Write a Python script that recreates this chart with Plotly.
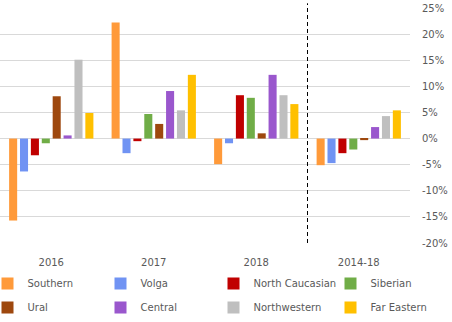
import plotly.graph_objects as go

categories = ["2016", "2017", "2018", "2014-18"]
regions = ["Southern", "Volga", "North Caucasian", "Siberian",
           "Ural", "Central", "Northwestern", "Far Eastern"]
colors = ["#FF9A3A", "#7093F3", "#C00000", "#70AD47",
          "#9E480E", "#9A57CD", "#BFBFBF", "#FFC000"]

southern = [-15.7, 22.2, -4.9, -5.1]
volga = [-6.3, -2.8, -0.9, -4.7]
north_caucasian = [-3.2, -0.5, 8.3, -2.8]
siberian = [-0.9, 4.7, 7.8, -2.1]
ural = [8.1, 2.8, 1.0, -0.3]
central = [0.6, 9.1, 12.2, 2.2]
northwestern = [15.1, 5.4, 8.3, 4.3]
far_eastern = [4.9, 12.2, 6.6, 5.4]

series = [southern, volga, north_caucasian, siberian,
          ural, central, northwestern, far_eastern]

tick_vals = [-20, -15, -10, -5, 0, 5, 10, 15, 20, 25]
tick_text = [f"{v}%" for v in tick_vals]

font = dict(family="DejaVu Sans", size=10, color="#595959")

W, H = 452, 322
ML, MR, MT, MB = 0, 42, 8, 79
PW, PH = W - ML - MR, H - MT - MB

legend_names = ["legend", "legend2", "legend3", "legend4"]
col_px = [-12.5, 100.5, 213.5, 330.5]

fig = go.Figure()
for i, (name, vals, col) in enumerate(zip(regions, series, colors)):
    fig.add_trace(go.Bar(
        x=categories, y=vals, name=name, marker_color=col,
        marker_line_width=0,
        legend=legend_names[i % 4], legendgroup=name,
    ))

fig.add_shape(type="line", xref="x", yref="paper", x0=2.5, x1=2.5,
              y0=0, y1=1.02, line=dict(color="black", width=1, dash="4px,3px"))

legends = {}
for k, (ln, px) in enumerate(zip(legend_names, col_px)):
    legends[ln] = dict(orientation="v", x=px / PW, xanchor="left",
                       y=(PH - (269 - MT)) / PH, yanchor="top",
                       font=font, itemwidth=30, bgcolor="rgba(0,0,0,0)",
                       tracegroupgap=5, traceorder="grouped")

fig.update_layout(
    width=W, height=H,
    margin=dict(l=ML, r=MR, t=MT, b=MB, autoexpand=False),
    paper_bgcolor="white", plot_bgcolor="white",
    barmode="group", bargap=0.15, bargroupgap=0.26,
    font=font,
    showlegend=True,
    xaxis=dict(showgrid=False, showline=False, zeroline=False,
               ticks="", tickfont=font, ticklabelstandoff=12),
    yaxis=dict(side="right", range=[-20, 25], tickvals=tick_vals,
               ticktext=tick_text, showgrid=True, gridcolor="#D9D9D9",
               gridwidth=1, zeroline=False, showline=False, ticks="",
               tickfont=font, ticklabelstandoff=11),
    **legends,
)

fig.write_html("out.html")
